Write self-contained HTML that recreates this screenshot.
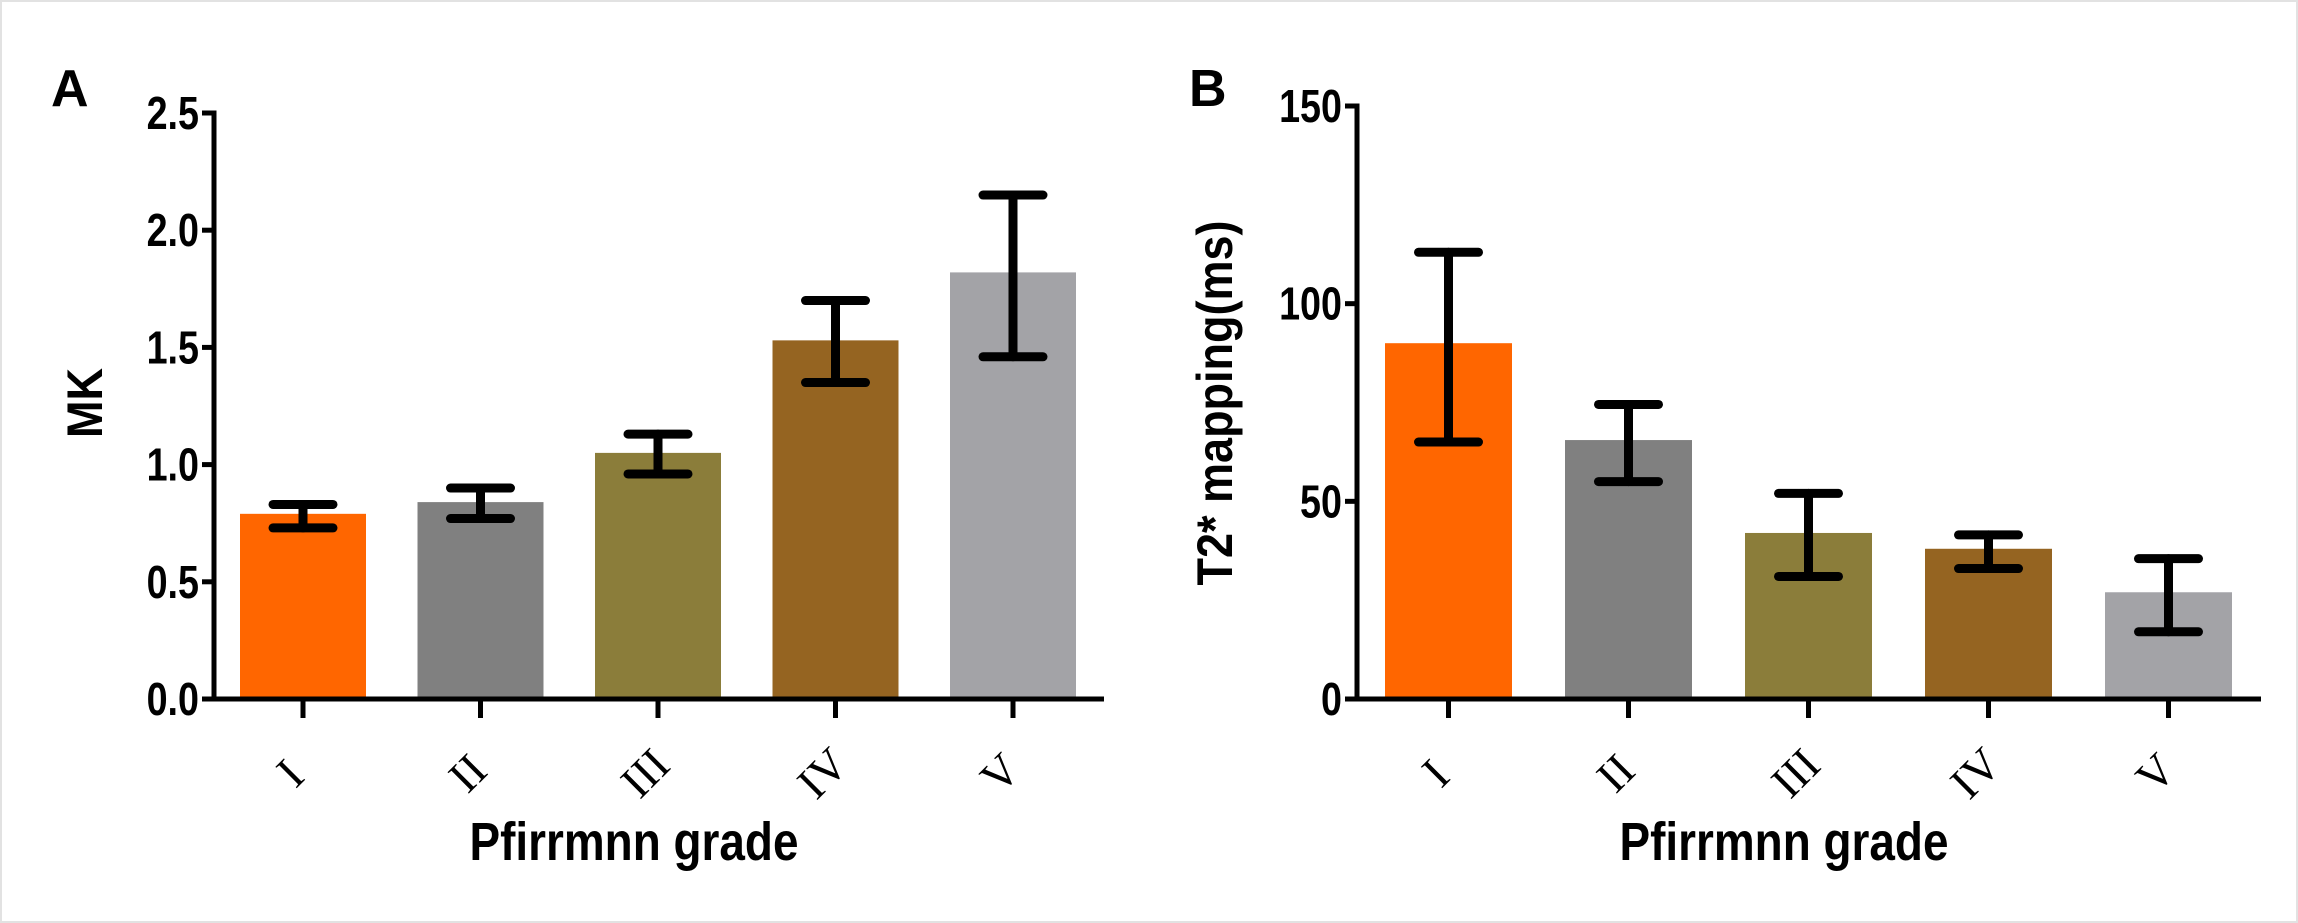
<!DOCTYPE html>
<html><head><meta charset="utf-8"><style>
html,body{margin:0;padding:0;background:#fff;overflow:hidden;}
svg{display:block;}
</style></head><body>
<svg id="c" width="2298" height="923" viewBox="0 0 2298 923" xmlns="http://www.w3.org/2000/svg">
<rect x="1" y="1" width="2296" height="921" fill="#fff" stroke="#e2e2e2" stroke-width="2"/>
</svg>
<script>
const categories = ["I","II","III","IV","V"];
const colors = ["#FF6600","#808080","#8B7D3A","#956421","#A3A3A7"];
const mkMeans = [0.79,0.84,1.05,1.53,1.82];
const mkLow = [0.73,0.77,0.96,1.35,1.46];
const mkHigh = [0.83,0.90,1.13,1.70,2.15];
const mkTicks = ["0.0","0.5","1.0","1.5","2.0","2.5"];
const t2Means = [90,65.5,42,38,27];
const t2Low = [65,55,31,33,17];
const t2High = [113,74.5,52,41.5,35.5];
const t2Ticks = ["0","50","100","150"];

const NS="http://www.w3.org/2000/svg";
const svg=document.getElementById('c');
function mk(tag,attrs,parent){const e=document.createElementNS(NS,tag);for(const k in attrs)e.setAttribute(k,attrs[k]);(parent||svg).appendChild(e);return e;}

function panel(o){
  const g=mk('g',{});
  
  
  const y=v=>o.y0-(v/o.max)*(o.y0-o.yTop);
  const x=i=>o.c0+i*o.step;
  o.means.forEach((m,i)=>{
    const r=mk('rect',{x:x(i)-o.bw/2,y:y(m),width:o.bw,height:o.y0-y(m),fill:colors[i]},g);
    
    
  });
  o.means.forEach((m,i)=>{
    const eg=mk('g',{stroke:'#000','stroke-width':9,'stroke-linecap':'round',fill:'none'},g);
    
    
    mk('line',{x1:x(i),x2:x(i),y1:y(o.low[i]),y2:y(o.high[i])},eg);
    mk('line',{x1:x(i)-30,x2:x(i)+30,y1:y(o.low[i]),y2:y(o.low[i])},eg);
    mk('line',{x1:x(i)-30,x2:x(i)+30,y1:y(o.high[i]),y2:y(o.high[i])},eg);
  });
  const ax=mk('g',{stroke:'#000','stroke-width':5,fill:'none'},g);
  
  
  mk('line',{x1:o.ax,x2:o.ax,y1:o.yTop-2.5,y2:o.y0+2.5},ax);
  mk('line',{x1:o.ax-2.5,x2:o.xEnd,y1:o.y0,y2:o.y0},ax);
  o.ticks.forEach((t,i)=>{
    const v=i*o.max/(o.ticks.length-1);
    mk('line',{x1:o.ax-12,x2:o.ax,y1:y(v),y2:y(v)},ax);
    const tx=mk('text',{x:0,y:0,'text-anchor':'end','font-family':'Liberation Sans, sans-serif','font-weight':'bold','font-size':46,fill:'#000',transform:`translate(${o.ax-15},${y(v)+16}) scale(0.82,1)`},g);
    tx.textContent=t;
    
    
  });
  categories.forEach((c,i)=>{
    mk('line',{x1:x(i),x2:x(i),y1:o.y0,y2:o.y0+19},ax);
    const tx=mk('text',{x:0,y:0,'text-anchor':'middle','dominant-baseline':'central','font-family':'Liberation Serif, serif','font-size':46,fill:'#000',transform:`translate(${x(i)-13},${o.y0+74}) rotate(-45)`},g);
    tx.textContent=c;
    
    
  });
  const xl=mk('text',{x:0,y:0,'text-anchor':'middle','font-family':'Liberation Sans, sans-serif','font-weight':'bold','font-size':54,fill:'#000',transform:`translate(${o.xlx},860) scale(0.85,1)`},g);
  xl.textContent='Pfirrmnn grade';
  
  
  const yl=mk('text',{x:0,y:0,'text-anchor':'middle','font-family':'Liberation Sans, sans-serif','font-weight':'bold','font-size':50,fill:'#000',transform:`translate(${o.ylx},403) rotate(-90) scale(0.9,1)`},g);
  yl.textContent=o.ytitle;
  
  
  const pl=mk('text',{x:o.lx,y:106,'font-family':'Liberation Sans, sans-serif','font-weight':'bold','font-size':52,fill:'#000'},g);
  pl.textContent=o.letter;
  
  
}
panel({id:'mk',means:mkMeans,low:mkLow,high:mkHigh,ticks:mkTicks,max:2.5,ax:214,yTop:113,y0:699,xEnd:1104,c0:303,step:177.5,bw:126,xlx:634,ylx:102,ytitle:'MK',letter:'A',lx:51});
panel({id:'t2',means:t2Means,low:t2Low,high:t2High,ticks:t2Ticks,max:150,ax:1357,yTop:106,y0:699,xEnd:2261,c0:1448.5,step:180,bw:127,xlx:1784,ylx:1232,ytitle:'T2* mapping(ms)',letter:'B',lx:1189});
</script>
</body></html>
